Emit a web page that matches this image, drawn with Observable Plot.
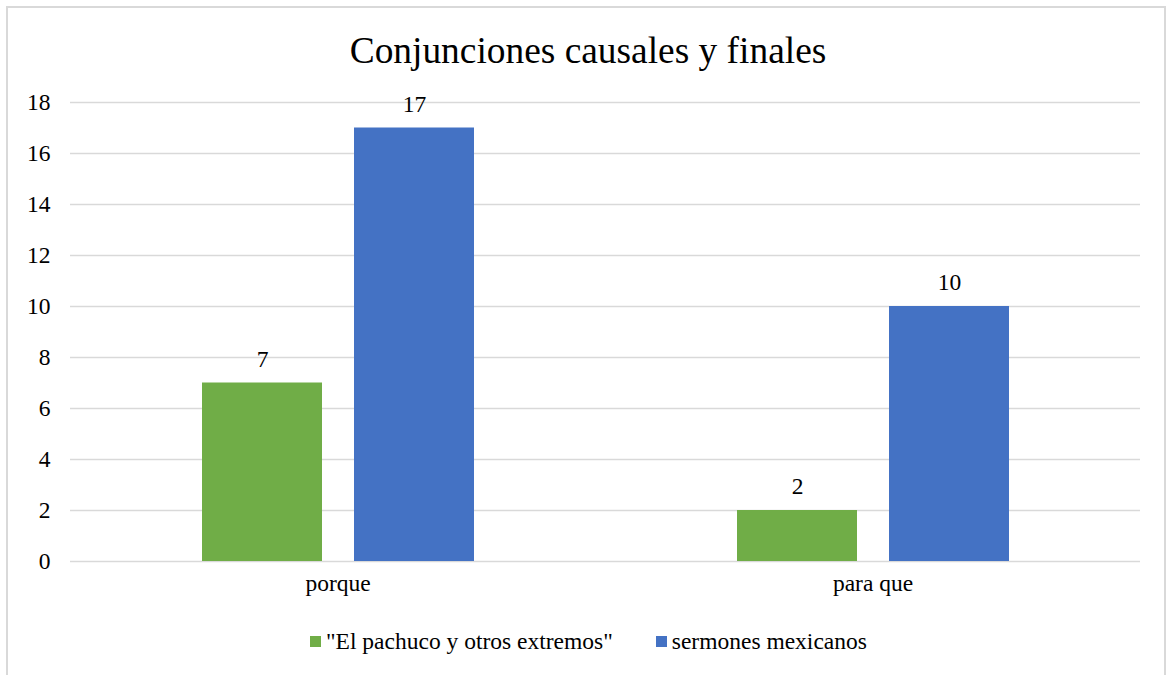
<!DOCTYPE html>
<html>
<head>
<meta charset="utf-8">
<script src="https://cdn.jsdelivr.net/npm/d3@7"></script>
<script src="https://cdn.jsdelivr.net/npm/@observablehq/plot@0.6"></script>
<style>
  html, body { margin: 0; padding: 0; background: #fff; }
  #wrap, #wrap * { font-family: "Liberation Serif", "Times New Roman", serif !important; }
  #wrap { position: relative; width: 1169px; height: 675px; overflow: hidden; background: #fff; color: #000; }
  #frame { position: absolute; left: 6px; top: 6px; width: 1160px; height: 700px; border: 2px solid #d9d9d9; box-sizing: border-box; }
  #title { position: absolute; left: 0; width: 1176px; top: 26px; text-align: center; font-size: 37.4px; line-height: 50px; }
  #chart { position: absolute; left: 0; top: 0; }
  #legend { position: absolute; left: 310px; top: 626px; display: flex; align-items: center; font-size: 23.5px; line-height: 30px; white-space: nowrap; }
  .item { display: flex; align-items: center; }
  .item + .item { margin-left: 43px; }
  .sw { width: 11px; height: 11px; margin-right: 5px; }
</style>
</head>
<body>
<div id="wrap">
  <div id="frame"></div>
  <div id="chart"></div>
  <div id="title">Conjunciones causales y finales</div>
  <div id="legend"></div>
</div>
<script>
const categories = ["porque", "para que"];
const seriesNames = ['"El pachuco y otros extremos"', "sermones mexicanos"];
const pachucoValues = [7, 2];
const sermonesValues = [17, 10];
const seriesColors = ["#70ad47", "#4472c4"];
const yTicks = [0, 2, 4, 6, 8, 10, 12, 14, 16, 18];

const rows = [];
categories.forEach((c, i) => {
  rows.push({category: c, series: seriesNames[0], value: pachucoValues[i]});
  rows.push({category: c, series: seriesNames[1], value: sermonesValues[i]});
});

const font = '"Liberation Serif", "Times New Roman", serif';

const plot = Plot.plot({
  width: 1169,
  height: 610,
  marginLeft: 69,
  marginRight: 29,
  marginTop: 102,
  marginBottom: 49,
  style: { fontFamily: font, fontSize: "23.5px", color: "#000", background: "transparent" },
  fx: { domain: categories, padding: 0, label: null, tickSize: 0, tickPadding: 13 },
  x: { domain: seriesNames, paddingInner: 0.213, paddingOuter: 0.862, axis: null },
  y: { domain: [0, 18], ticks: yTicks, tickSize: 0, tickPadding: 20, label: null },
  color: { domain: seriesNames, range: seriesColors },
  marks: [
    Plot.ruleY(yTicks, { stroke: "#d9d9d9", strokeWidth: 1.5 }),
    Plot.barY(rows, { fx: "category", x: "series", y: "value", fill: "series" }),
    Plot.text(rows, { fx: "category", x: "series", y: "value", text: d => String(d.value), dy: -24, fontSize: 23.5, fill: "#000" })
  ]
});
document.getElementById("chart").appendChild(plot);

const legend = document.getElementById("legend");
seriesNames.forEach((s, i) => {
  const it = document.createElement("div");
  it.className = "item";
  const sw = document.createElement("span");
  sw.className = "sw";
  sw.style.background = seriesColors[i];
  const t = document.createElement("span");
  t.textContent = s;
  it.appendChild(sw); it.appendChild(t);
  legend.appendChild(it);
});
</script>
</body>
</html>
